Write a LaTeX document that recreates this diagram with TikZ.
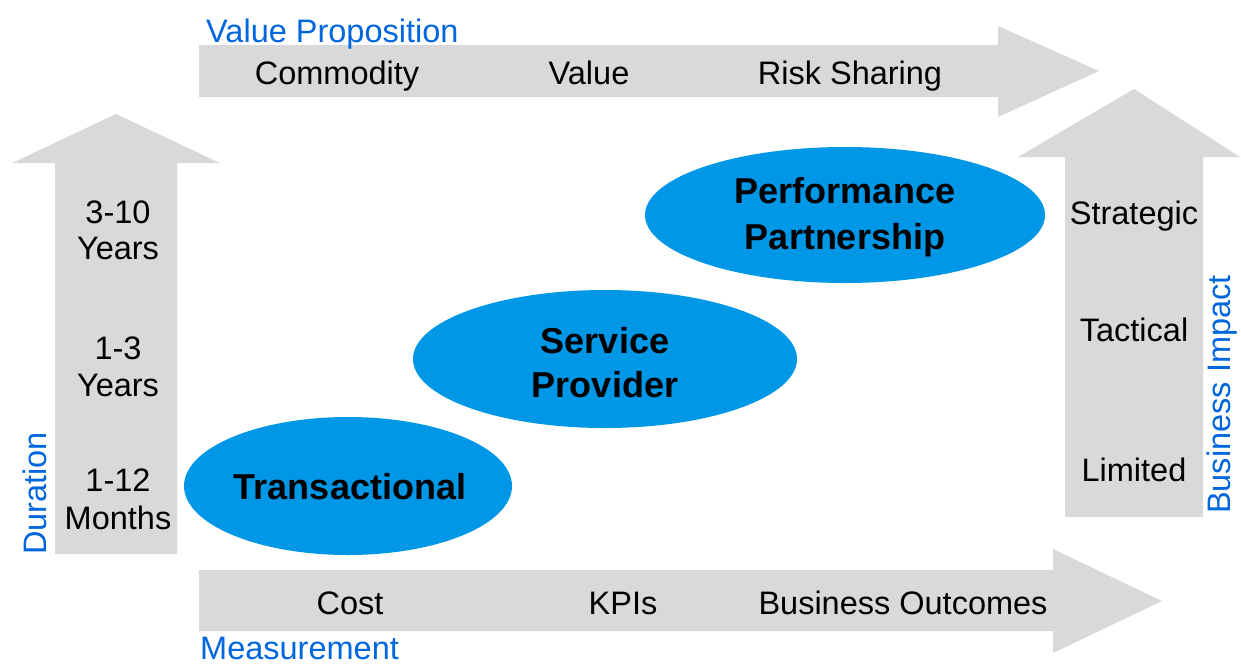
\documentclass[tikz,border=0pt]{standalone}
\usepackage{fontspec}
\setmainfont{Liberation Sans}
\definecolor{arrowgray}{RGB}{217,217,217}
\definecolor{ellblue}{RGB}{0,152,230}
\definecolor{labblue}{RGB}{0,102,221}
\begin{document}
\begin{tikzpicture}[x=1pt,y=-1pt,
  bigarrow/.style={fill=arrowgray,draw=none},
  lbl/.style={font=\fontsize{32.5}{37}\selectfont,text=black,inner sep=0pt,anchor=base},
  axislbl/.style={font=\fontsize{32.5}{37}\selectfont,text=labblue,inner sep=0pt,anchor=base west},
  boldlbl/.style={font=\fontsize{36}{44}\bfseries\selectfont,text=black,inner sep=0pt,anchor=base}]
\useasboundingbox (0,0) rectangle (1241,664);
% top arrow
\fill[bigarrow] (199,45) -- (998,45) -- (998,26) -- (1099,71) -- (998,117) -- (998,97) -- (199,97) -- cycle;
% bottom arrow
\fill[bigarrow] (199,570) -- (1053,570) -- (1053,549) -- (1162,601) -- (1053,653) -- (1053,631) -- (199,631) -- cycle;
% left arrow
\fill[bigarrow] (55,554) -- (55,163) -- (12,163) -- (116,114) -- (220,163) -- (177,163) -- (177,554) -- cycle;
% right arrow
\fill[bigarrow] (1065,517) -- (1065,157) -- (1018,157) -- (1134,89) -- (1240,157) -- (1203,157) -- (1203,517) -- cycle;
% ellipses
\fill[ellblue] (348,486) ellipse [x radius=164, y radius=69];
\fill[ellblue] (605,359) ellipse [x radius=192, y radius=69];
\fill[ellblue] (845,215) ellipse [x radius=200, y radius=68];
\node[boldlbl] (trans) at (350,499) {Transactional};
\node[boldlbl] (serv1) at (605,353) {Service};
\node[boldlbl] (serv2) at (605,397) {Provider};
\node[boldlbl] (perf1) at (845,203) {Performance};
\node[boldlbl] (perf2) at (845,249) {Partnership};
% axis labels
\node[axislbl] (vp) at (206,42) {Value Proposition};
\node[axislbl,text depth=0pt] (meas) at (200,659) {Measurement};
\node[axislbl,rotate=90] (dur) at (46,555) {Duration};
\node[axislbl,rotate=90] (bi) at (1230,514) {Business Impact};
% top arrow labels
\node[lbl] (commodity) at (337,84) {Commodity};
\node[lbl] (value) at (589,84) {Value};
\node[lbl] (risk) at (850,84) {Risk Sharing};
% bottom arrow labels
\node[lbl] (cost) at (350,614) {Cost};
\node[lbl] (kpis) at (623,614) {KPIs};
\node[lbl] (bo) at (903,614) {Business Outcomes};
% left arrow labels
\node[lbl] (y310a) at (118,223) {3-10};
\node[lbl] (y310b) at (118,259) {Years};
\node[lbl] (y13a) at (118,359) {1-3};
\node[lbl] (y13b) at (118,396) {Years};
\node[lbl] (m112a) at (118,491) {1-12};
\node[lbl] (m112b) at (118,529) {Months};
% right arrow labels
\node[lbl] (strat) at (1134,224) {Strategic};
\node[lbl] (tact) at (1134,341) {Tactical};
\node[lbl] (lim) at (1134,481) {Limited};
\end{tikzpicture}
\end{document}
